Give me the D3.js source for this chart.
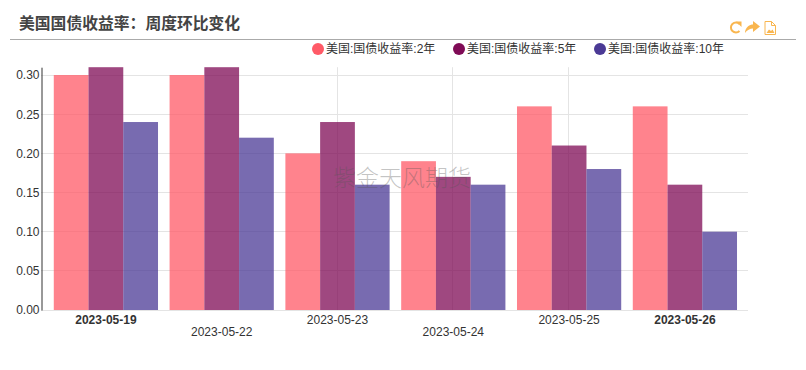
<!DOCTYPE html>
<html>
<head>
<meta charset="utf-8">
<script src="https://cdn.jsdelivr.net/npm/d3@7"></script>
<style>
  html, body { margin: 0; padding: 0; background: #fff; }
  svg { display: block; }
</style>
</head>
<body>
<div id="chart"></div>
<script>
// ========= DATA =========
const dates = ["2023-05-19", "2023-05-22", "2023-05-23", "2023-05-24", "2023-05-25", "2023-05-26"];
const seriesNames = ["美国:国债收益率:2年", "美国:国债收益率:5年", "美国:国债收益率:10年"];
const yield2y = [0.30, 0.30, 0.20, 0.19, 0.26, 0.26];
const yield5y = [0.31, 0.31, 0.24, 0.17, 0.21, 0.16];
const yield10y = [0.24, 0.22, 0.16, 0.16, 0.18, 0.10];
const yTicks = [0, 0.05, 0.10, 0.15, 0.20, 0.25, 0.30];
const seriesColors = ["#ff5a67", "#7f0b56", "#4b3a95"];
const allSeries = [yield2y, yield5y, yield10y];

const width = 806, height = 370;
const fontFamily = "'Liberation Sans', 'Noto Sans CJK SC', sans-serif";

var svg = d3
  .select("#chart")
  .append("svg")
  .attr("width", width)
  .attr("height", height)
  .style("font-family", fontFamily);

// ========= SCALES =========
var x = d3.scaleBand().domain(dates).range([48, 742.8]).paddingInner(0.1).paddingOuter(0.05);
var xInner = d3.scaleBand().domain(d3.range(3)).range([0, x.bandwidth()]);
var y = d3.scaleLinear().domain([0, 0.31]).range([310, 67.2]);

// ========= HEADER =========
svg
  .append("text")
  .attr("x", 19)
  .attr("y", 29)
  .attr("font-size", 15.8)
  .attr("font-weight", "bold")
  .attr("font-family", "'Noto Sans CJK SC', sans-serif")
  .attr("fill", "#444")
  .text("美国国债收益率：周度环比变化");

svg
  .append("line")
  .attr("x1", 10)
  .attr("x2", 796)
  .attr("y1", 39.5)
  .attr("y2", 39.5)
  .attr("stroke", "#aaa");

// toolbar icons
var icons = svg
  .append("g")
  .attr("fill", "none")
  .attr("stroke", "#f9b64f")
  .attr("stroke-width", 2);
icons.append("path").attr("d", "M739.5,24 A5,5 0 1 0 739.5,31");
icons.append("path").attr("d", "M736,21.5 L741.5,21.5 L741.5,27 Z").attr("fill", "#f9b64f").attr("stroke", "none");
icons
  .append("path")
  .attr("d", "M745,33 C745,27 750,24.5 753,24.5 L753,21 L760,26.5 L753,32 L753,28.5 C750,28.5 747,30 745,33 Z")
  .attr("fill", "#f9b64f")
  .attr("stroke", "none");
icons
  .append("path")
  .attr("d", "M765,21.5 H771.5 L775.5,25.5 V34.5 H765 Z M771.5,21.5 V25.5 H775.5")
  .attr("stroke-width", 1);
icons.append("path").attr("d", "M766.5,33 L769,29.5 L771,31 L772.5,29.5 L774.5,33 Z").attr("fill", "#f9b64f").attr("stroke", "none");

// ========= LEGEND =========
var legendX = [318, 459, 600];
var legend = svg
  .append("g")
  .selectAll("g")
  .data(seriesNames)
  .join("g")
  .attr("transform", (d, i) => `translate(${legendX[i]},49)`);

legend
  .append("circle")
  .attr("r", 6)
  .attr("fill", (d, i) => seriesColors[i]);

legend
  .append("text")
  .attr("x", 8)
  .attr("y", 4)
  .attr("font-size", 12)
  .attr("fill", "#333")
  .text((d) => d);

// ========= GRID =========
var grid = svg.append("g").attr("stroke", "#e4e4e4").attr("stroke-width", 1);

grid
  .selectAll("line.h")
  .data(yTicks)
  .join("line")
  .attr("class", "h")
  .attr("x1", 41)
  .attr("x2", 748)
  .attr("y1", (d) => Math.floor(y(d)) + 0.5)
  .attr("y2", (d) => Math.floor(y(d)) + 0.5);

// only the three middle dates have a visible vertical line
grid
  .selectAll("line.v")
  .data(dates.slice(2, 5))
  .join("line")
  .attr("class", "v")
  .attr("x1", (d) => Math.floor(x(d) + x.bandwidth() / 2 - 0.4) + 0.5)
  .attr("x2", (d) => Math.floor(x(d) + x.bandwidth() / 2 - 0.4) + 0.5)
  .attr("y1", y(0.31))
  .attr("y2", y(0));

// ========= BARS =========
svg
  .append("g")
  .selectAll("g")
  .data(allSeries)
  .join("g")
  .attr("fill", (d, i) => seriesColors[i])
  .attr("fill-opacity", 0.75)
  .each(function (values, s) {
    d3.select(this)
      .selectAll("rect")
      .data(values)
      .join("rect")
      .attr("x", (d, i) => x(dates[i]) + xInner(s))
      .attr("y", (d) => y(d))
      .attr("width", xInner.bandwidth())
      .attr("height", (d) => y(0) - y(d));
  });

// ========= AXES =========
var yAxis = svg
  .append("g")
  .attr("transform", "translate(41.5,0)")
  .call(d3.axisLeft(y).tickValues(yTicks).tickFormat(d3.format(".2f")).tickSize(0).tickPadding(2));
yAxis.select(".domain").attr("stroke", "#333");
yAxis.selectAll("text").attr("font-size", 12).attr("font-family", fontFamily).attr("fill", "#333");

var xAxis = svg
  .append("g")
  .attr("transform", "translate(0,310)")
  .call(d3.axisBottom(x).tickSize(0).tickPadding(0));
xAxis.select(".domain").remove();
xAxis
  .selectAll("text")
  .attr("font-size", 12)
  .attr("font-family", fontFamily)
  .attr("fill", "#333")
  .attr("font-weight", (d, i) => (i == 0 || i == dates.length - 1 ? "bold" : "normal"))
  .attr("y", (d, i) => (i == 1 || i == 3 ? 17.5 : 5.5));

// ========= WATERMARK =========
svg
  .append("text")
  .attr("x", 402)
  .attr("y", 186)
  .attr("text-anchor", "middle")
  .attr("font-size", 23)
  .attr("font-family", "'Noto Sans CJK SC', sans-serif")
  .attr("font-weight", 300)
  .attr("fill", "#555")
  .attr("fill-opacity", 0.35)
  .text("紫金天风期货");
</script>
</body>
</html>
